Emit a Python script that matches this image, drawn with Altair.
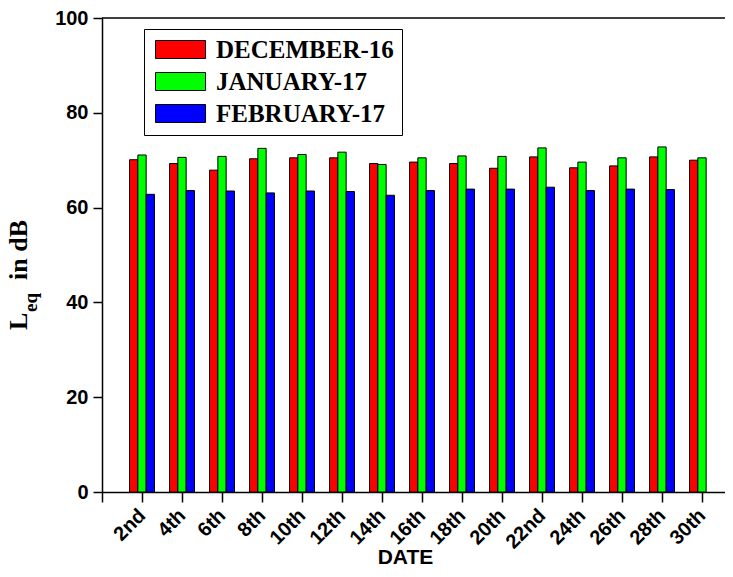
import altair as alt
import pandas as pd

# ---------------- data ----------------
dates = ["2nd", "4th", "6th", "8th", "10th", "12th", "14th", "16th",
         "18th", "20th", "22nd", "24th", "26th", "28th", "30th"]
days = [2, 4, 6, 8, 10, 12, 14, 16, 18, 20, 22, 24, 26, 28, 30]
series_names = ["DECEMBER-16", "JANUARY-17", "FEBRUARY-17"]
dec16 = [70.1, 69.3, 67.9, 70.3, 70.5, 70.5, 69.3, 69.6, 69.3, 68.3, 70.7, 68.4, 68.8, 70.7, 70.0]
jan17 = [71.1, 70.6, 70.8, 72.5, 71.2, 71.7, 69.1, 70.5, 70.9, 70.8, 72.6, 69.6, 70.5, 72.8, 70.5]
feb17 = [62.8, 63.6, 63.5, 63.1, 63.5, 63.4, 62.6, 63.6, 63.9, 63.9, 64.3, 63.6, 63.9, 63.8, None]
colors = ["#FF0000", "#00FF00", "#0000FF"]
y_ticks = [0, 20, 40, 60, 80, 100]
x_ticks = [0] + days

rows = []
for si, (name, vals) in enumerate(zip(series_names, [dec16, jan17, feb17])):
    for d, lab, v in zip(days, dates, vals):
        if v is None:
            continue
        rows.append({"day": d, "date": lab, "series": name, "idx": si, "value": v})
df = pd.DataFrame(rows)

W, H = 623, 474
BAR_W = 0.415
label_arr = "[" + ",".join("'" + s + "'" for s in dates) + "]"
label_expr = f"datum.value == 0 ? '' : {label_arr}[datum.value / 2 - 1]"

SANS = "Liberation Sans"
SERIF = "Liberation Serif"

bars = alt.Chart(df).transform_calculate(
    x0=f"datum.day + (datum.idx - 1) * {BAR_W} - {BAR_W / 2}",
    x1=f"datum.day + (datum.idx - 1) * {BAR_W} + {BAR_W / 2}",
    base="0",
).mark_bar(stroke="black", strokeWidth=1, opacity=1).encode(
    x=alt.X("x0:Q",
            scale=alt.Scale(domain=[0, 31.15], nice=False, zero=False),
            axis=alt.Axis(values=x_ticks, labelExpr=label_expr, labelAngle=-45,
                          labelAlign="right", labelBaseline="middle",
                          labelPadding=10, tickSize=10, grid=False,
                          labelFont=SANS, labelFontWeight="bold", labelFontSize=20,
                          title="DATE", titleFont=SANS, titleFontWeight="bold",
                          titleFontSize=21, titleX=303, titleY=71,
                          titleBaseline="alphabetic", labelOverlap=False)),
    x2="x1:Q",
    y=alt.Y("value:Q",
            scale=alt.Scale(domain=[0, 100], nice=False),
            axis=alt.Axis(values=y_ticks, tickSize=9, labelPadding=5, grid=False,
                          labelFont=SANS, labelFontWeight="bold", labelFontSize=20,
                          title=None)),
    y2="base:Q",
    color=alt.Color("series:N",
                    scale=alt.Scale(domain=series_names, range=colors),
                    sort=series_names,
                    legend=alt.Legend(
                        title=None, orient="none", legendX=42, legendY=11,
                        symbolType="M-1,-1H4.56V1H-1Z", symbolSize=324,
                        symbolStrokeColor="black", symbolStrokeWidth=1,
                        symbolOpacity=1,
                        labelFont=SERIF, labelFontWeight="bold", labelFontSize=25,
                        labelColor="black", labelOffset=39, rowPadding=6,
                        padding=8, strokeColor="black", fillColor="white",
                        labelLimit=400)),
)

frame = alt.Chart(pd.DataFrame({"v": [100]})).mark_rule(
    color="black", strokeWidth=1.5
).encode(y="v:Q", x=alt.value(0), x2=alt.value(W))

def ytext(txt, size, x, y):
    return alt.Chart(pd.DataFrame({"t": [txt]})).mark_text(
        font=SERIF, fontWeight="bold", fontSize=size, angle=270,
        align="left", baseline="alphabetic", color="black"
    ).encode(text="t:N", x=alt.value(x), y=alt.value(y))

ytitle = (ytext("L", 26, -74.7, 312) + ytext("eq", 19, -65.3, 294)
          + ytext("in dB", 26, -74.7, 262))

chart = alt.layer(bars, frame, ytitle).properties(
    width=W, height=H,
    autosize=alt.AutoSizeParams(type="none"),
    padding={"left": 94, "top": 10, "right": 0, "bottom": 72},
).configure_view(stroke=None).configure_axis(
    domainColor="black", domainWidth=1.5, tickColor="black", tickWidth=1.5,
    labelColor="black", titleColor="black"
)

chart.save("out.html", embed_options={"renderer": "svg", "actions": False})
